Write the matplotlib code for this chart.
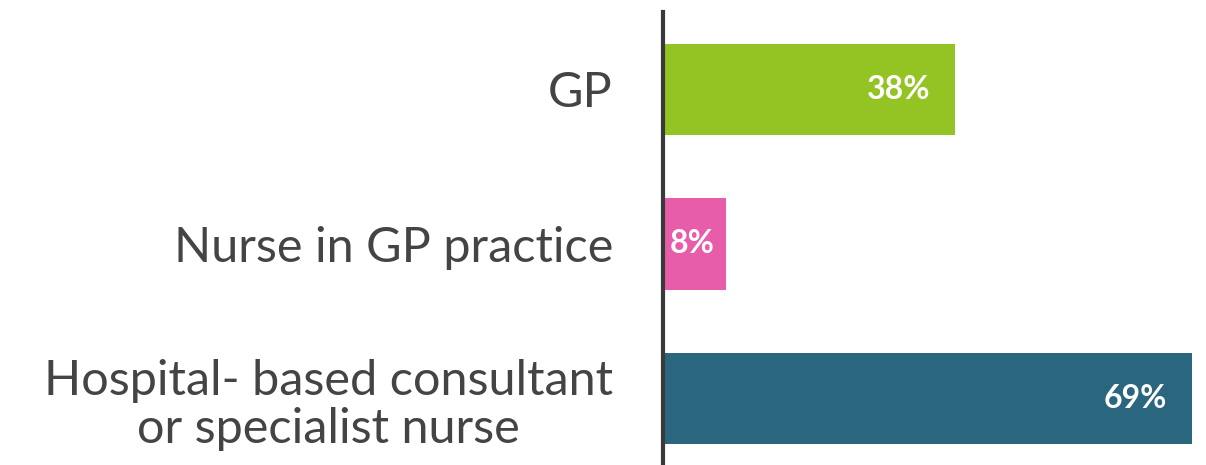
import matplotlib.pyplot as plt

# Chart data
categories = ["GP", "Nurse in GP practice", "Hospital- based consultant\nor specialist nurse"]
values = [38, 8, 69]
bar_colors = ["#93C424", "#E75DAA", "#2A667E"]

plt.rcParams['font.family'] = ['Lato', 'DejaVu Sans']

W, H = 1206, 465
fig = plt.figure(figsize=(W / 100, H / 100), dpi=100)
ax = fig.add_axes([663 / W, 0, (1200 - 663) / W, (H - 12) / H])

for s in ['top', 'right', 'bottom']:
    ax.spines[s].set_visible(False)
ax.spines['left'].set_linewidth(3)
ax.spines['left'].set_color('#3a3a3a')

pos = list(range(len(categories)))
bars = ax.barh(pos, values, height=0.59, color=bar_colors)

ax.set_xlim(-0.2, 70)
ax.set_ylim(2.43, -0.5)

# value labels inside the bar end
for b, v in zip(bars, values):
    y = b.get_y() + b.get_height() / 2
    off = -8 if v < 10 else -18
    ax.annotate(f"{v}%", (v, y), xytext=(off, 0), textcoords='offset points',
                ha='right', va='center', color='white', fontsize=23, fontweight='bold')

ax.set_xticks([])
ax.set_yticks(pos)
ax.set_yticklabels(categories, fontsize=35, color='#444444', multialignment='center',
                   linespacing=1.12)
ax.tick_params(axis='y', length=0, pad=36)

fig.savefig("out.png", dpi=100, facecolor='white')
